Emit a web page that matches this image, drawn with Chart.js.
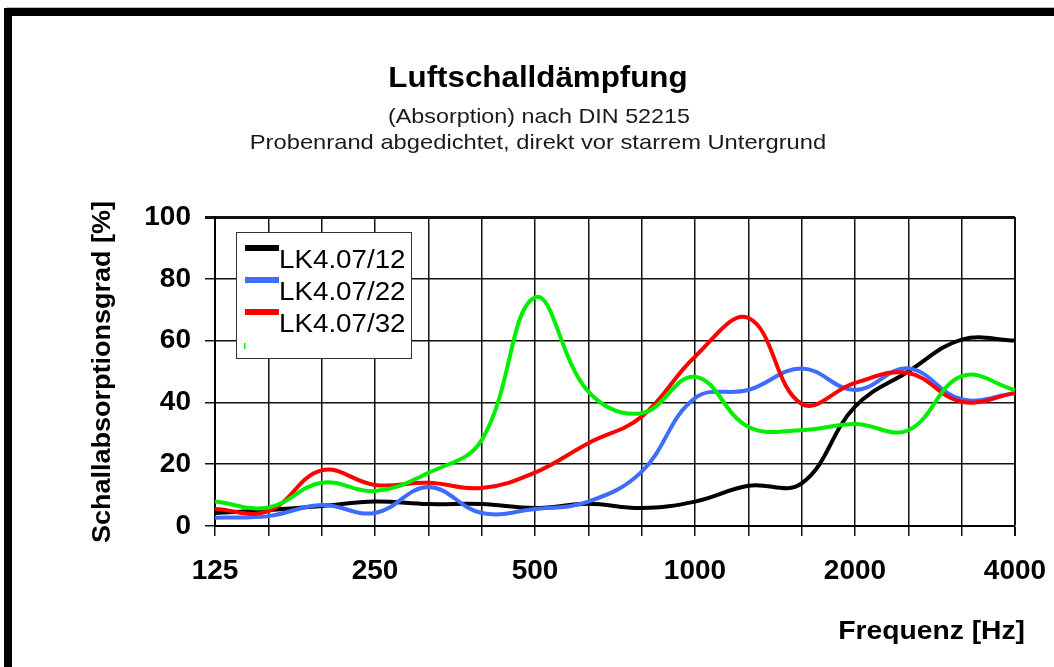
<!DOCTYPE html>
<html>
<head>
<meta charset="utf-8">
<script src="https://cdn.jsdelivr.net/npm/chart.js@4"></script>
<style>
  body { margin: 0; background: #fff; width: 1054px; height: 667px; overflow: hidden; position: relative; }
  #hair { position: absolute; left: 7px; top: 7px; width: 1100px; height: 700px; border-left: 1px solid #aaa; border-top: 1px solid #bbb; }
  #frame { position: absolute; left: 4px; top: 8px; width: 1100px; height: 700px; border-left: 8px solid #000; border-top: 8px solid #000; }
  #wrap { position: absolute; left: 0; top: 0; width: 1054px; height: 667px; }
</style>
</head>
<body>
<div id="hair"></div>
<div id="frame"></div>
<div id="wrap"><canvas id="chart" width="1054" height="667"></canvas></div>
<script>
document.addEventListener("DOMContentLoaded", function () {
    // third-octave band centre frequencies (x axis)
    const frequencies = ['125', '160', '200', '250', '315', '400', '500', '630', '800', '1000', '1250', '1600', '2000', '2500', '3150', '4000'];
    const labelledFrequencies = ['125', '250', '500', '1000', '2000', '4000'];

    // absorption degree in %
    const lk12 = [4.2, 5.2, 6.5, 7.9, 7.1, 7.1, 5.8, 7.2, 5.8, 7.9, 13, 13.8, 38.6, 50, 60.3, 60];
    const lk22 = [2.7, 3.2, 6.8, 4.2, 12.6, 4.2, 5.5, 7.9, 17.6, 41.4, 44, 51, 44, 51, 41, 43];
    const lk32 = [5.5, 4.8, 18, 13.3, 14, 12.3, 17.3, 26.8, 35.4, 54.8, 67.3, 39.5, 46.3, 49.5, 40.2, 43];
    const lk42 = [7.9, 6, 14, 11.3, 17.2, 27.8, 74, 43.5, 36.5, 48.3, 32.1, 31, 33, 31, 48.5, 44];

    const legendNames = ['LK4.07/12', 'LK4.07/22', 'LK4.07/32'];
    const legendColors = ['#000000', '#3d6cff', '#ff0000'];

    const FONT = '"Liberation Sans", Arial, sans-serif';

    // the original text is a bit wider than Arial, so stretch it horizontally
    function wideText(ctx, text, x, y, stretch, align) {
        ctx.save();
        ctx.translate(x, y);
        ctx.scale(stretch, 1);
        ctx.textAlign = align;
        ctx.fillText(text, 0, 0);
        ctx.restore();
    }

    // Titles, axis titles and the boxed legend are drawn on the canvas
    const textPlugin = {
        id: 'texts',
        afterDraw(chart) {
            const ctx = chart.ctx;
            ctx.save();
            ctx.fillStyle = '#000';
            ctx.textBaseline = 'alphabetic';
            ctx.font = 'bold 29px ' + FONT;
            wideText(ctx, 'Luftschalldämpfung', 538, 87, 1.08, 'center');
            ctx.fillStyle = '#1a1a1a';
            ctx.font = '21px ' + FONT;
            wideText(ctx, '(Absorption) nach DIN 52215', 539, 123, 1.11, 'center');
            wideText(ctx, 'Probenrand abgedichtet, direkt vor starrem Untergrund', 538, 149, 1.13, 'center');

            // axis titles
            ctx.fillStyle = '#000';
            ctx.font = 'bold 25px ' + FONT;
            wideText(ctx, 'Frequenz [Hz]', 1025, 639, 1.13, 'right');
            ctx.save();
            ctx.translate(103, 372);
            ctx.rotate(-Math.PI / 2);
            ctx.textAlign = 'center';
            ctx.textBaseline = 'middle';
            ctx.scale(1.08, 1);
            ctx.fillText('Schallabsorptionsgrad [%]', 0, 0);
            ctx.restore();

            // legend box
            ctx.fillStyle = '#fff';
            ctx.fillRect(236.5, 232.5, 175, 126);
            ctx.strokeStyle = '#333';
            ctx.lineWidth = 1;
            ctx.strokeRect(236.5, 232.5, 175, 126);
            ctx.textBaseline = 'alphabetic';
            ctx.font = '25px ' + FONT;
            legendNames.forEach(function (name, i) {
                const y = 248 + i * 32;
                ctx.fillStyle = legendColors[i];
                ctx.fillRect(245, y - 3, 34, 6);
                ctx.fillStyle = '#000';
                wideText(ctx, name, 279, y + 20, 1.11, 'left');
            });
            // clipped fourth entry, only a sliver of green shows
            ctx.fillStyle = '#00ee00';
            ctx.fillRect(244, 343, 1.5, 6);
            ctx.restore();
        }
    };

    function series(data, color) {
        return {
            data: data,
            borderColor: color,
            backgroundColor: color,
            borderWidth: 4,
            pointRadius: 0,
            tension: 0.4,
            fill: false
        };
    }

    new Chart(document.getElementById('chart').getContext('2d'), {
        type: 'line',
        data: {
            labels: frequencies,
            datasets: [
                series(lk42, '#00ee00'),
                series(lk32, '#ff0000'),
                series(lk22, '#3d6cff'),
                series(lk12, '#000000')
            ]
        },
        options: {
            responsive: false,
            animation: false,
            layout: { padding: { left: 0, top: 217, right: 39, bottom: 61 } },
            plugins: {
                legend: { display: false },
                tooltip: { enabled: false },
                title: { display: false }
            },
            scales: {
                x: {
                    type: 'category',
                    offset: false,
                    afterFit: function (scale) {
                        scale.height = 80;
                        scale.paddingLeft = 0;
                        scale.paddingRight = 0;
                    },
                    border: { display: true, color: '#000', width: 2 },
                    grid: {
                        color: '#111',
                        lineWidth: ctx => (ctx.index === frequencies.length - 1 ? 2 : 1.5),
                        drawTicks: true,
                        tickLength: 10,
                        tickColor: '#111'
                    },
                    ticks: {
                        autoSkip: false,
                        maxRotation: 0,
                        padding: 18,
                        color: '#000',
                        font: { family: FONT, size: 28, weight: 'bold' },
                        callback: function (value) {
                            const f = this.getLabelForValue(value);
                            return labelledFrequencies.includes(f) ? f : '';
                        }
                    }
                },
                y: {
                    min: 0,
                    max: 100,
                    afterFit: function (scale) { scale.width = 215; },
                    border: { display: true, color: '#000', width: 2 },
                    grid: {
                        color: '#111',
                        lineWidth: ctx => (ctx.tick && ctx.tick.value === 100 ? 3 : 1.5),
                        drawTicks: true,
                        tickLength: 10,
                        tickColor: '#111'
                    },
                    ticks: {
                        stepSize: 20,
                        padding: 14,
                        color: '#000',
                        font: { family: FONT, size: 28, weight: 'bold' }
                    }
                }
            }
        },
        plugins: [textPlugin]
    });
});
</script>
</body>
</html>
